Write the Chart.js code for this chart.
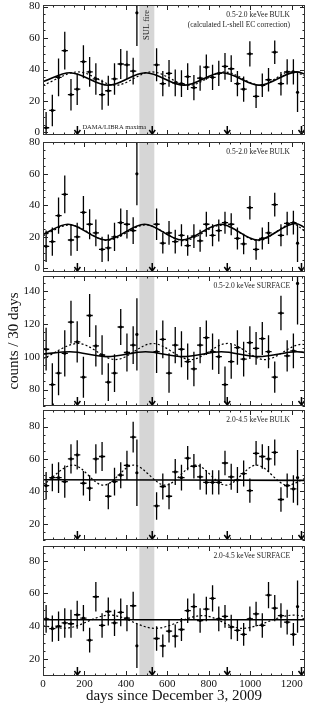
<!DOCTYPE html>
<html>
<head>
<meta charset="utf-8">
<script src="https://cdn.jsdelivr.net/npm/chart.js@4.4.1/dist/chart.umd.min.js"></script>
<style>
  body { margin: 0; background: #fff; width: 310px; height: 704px; overflow: hidden; position: relative; }
  .panel { position: absolute; left: 0; width: 310px; }
  canvas { display: block; }
</style>
</head>
<body>
<script>
// Bin centres (days since Dec 3, 2009) and half widths
const binDays = [15, 45, 75, 105, 135, 165, 195, 225, 255, 285, 315, 345, 375, 405, 435, 453,
  548, 578, 608, 638, 668, 698, 728, 758, 788, 818, 848, 878, 908, 938, 968, 998,
  1028, 1058, 1088, 1118, 1148, 1178, 1208, 1228];
const binHalf = [15, 15, 15, 15, 15, 15, 15, 15, 15, 15, 15, 15, 15, 15, 15, 5,
  15, 15, 15, 15, 15, 15, 15, 15, 15, 15, 15, 15, 15, 15, 15, 15,
  15, 15, 15, 15, 15, 15, 15, 5];

const xTickLabels = [0, 200, 400, 600, 800, 1000, 1200];
const bandDays = [465, 537];          // SUL fire
const damaDays = [166, 527, 889, 1247]; // DAMA/LIBRA maxima

// 0.5-2.0 keVee BULK (L-shell corrected)
const p1Counts = [3, 14, 35, 52, 24, 27.5, 45, 38.5, 34, 24, 26.5, 34, 43.5, 43, 39, 76,
  43, 31, 37.5, 31.5, 31, 35.5, 28.5, 34.5, 41.5, 35, 37.5, 42, 40.5, 31, 27.5, 50,
  23, 30, 33.5, 51, 31, 38.5, 38.5, 25.5];
const p1Err = [10, 10, 12, 12, 10, 10, 10.5, 9.5, 10, 9.5, 9.5, 10, 9.5, 9, 8.5, 21,
  10.5, 8, 8.5, 8.5, 8.5, 8.5, 8, 8, 8, 8, 8, 8.5, 8.5, 8, 8, 8,
  7.5, 7.5, 7.5, 7.5, 7.5, 8, 8, 12.5];
const p1SolidDays = [0, 130, 315, 495, 680, 865, 1045, 1225, 1264];
const p1Solid = [32.3, 38, 30, 38, 30, 38, 30, 38.5, 37];
const p1DotDays = [0, 170, 350, 525, 705, 875, 1050, 1200, 1264];
const p1Dotted = [30, 38.5, 30, 38.5, 30, 38.5, 30, 39, 35.8];
const p1YTicks = [0, 20, 40, 60, 80];

// 0.5-2.0 keVee BULK
const p2Counts = [14, 17, 33.5, 47, 18, 20, 35.5, 28, 22.5, 12, 13, 20, 29, 28, 24, 60,
  28, 16, 22.5, 17, 21, 14.5, 20.5, 17.5, 28, 21, 24, 29, 28, 19, 15.5, 38.5,
  12, 19, 22.5, 40.5, 21, 28.5, 29, 16];
const p2Err = [10, 9, 11.5, 12, 10, 9, 10.5, 9.5, 8.5, 8, 8.5, 9, 9, 9, 8.5, 20,
  10, 6.5, 7.5, 7.5, 7, 6.5, 7.5, 7, 8, 7, 7, 7, 7, 7, 6.5, 7.5,
  6.5, 7, 7, 7.5, 7, 7.5, 7.5, 12];
const p2SolidDays = [0, 120, 303, 490, 670, 860, 1035, 1220, 1264];
const p2Solid = [21.6, 28, 18, 28, 18, 28, 18, 28.5, 25.8];
const p2DotDays = [0, 130, 310, 495, 680, 862, 1040, 1205, 1264];
const p2Dotted = [20.8, 27.6, 17.8, 27.6, 17.6, 27.4, 17.6, 28.3, 23.5];
const p2YTicks = [0, 20, 40, 60, 80];

// 0.5-2.0 keVee SURFACE
const p3Counts = [104.5, 83, 90, 102, 121, 109, 87.5, 125, 106.5, 101, 84.5, 90, 118, 102.5, 107, 113.5,
  103, 110.5, 90, 107, 104.5, 97, 92.5, 107, 111.5, 103, 100, 83, 97, 105.5, 98.5, 108.5,
  105, 111, 103, 87.5, 126.5, 100.5, 103.5, 144.5];
const p3Err = [13, 13, 13.5, 14, 13, 12.5, 12.5, 13, 12.5, 12, 11.5, 11.5, 11, 11.5, 11.5, 22,
  13, 11.5, 12, 11, 11, 11, 10.5, 11, 10.5, 11, 10.5, 11, 10.5, 10.5, 10.5, 10,
  10, 10, 10, 9.5, 10.5, 9.5, 10.5, 25];
const p3SolidDays = [0, 130, 310, 495, 675, 860, 1040, 1225, 1264];
const p3Solid = [101.5, 103, 100, 103, 100, 103, 100, 103, 102.6];
const p3DotDays = [0, 170, 350, 530, 712, 890, 1070, 1250, 1264];
const p3Dotted = [98.8, 108, 98.2, 108, 98.2, 108, 98.2, 107.5, 107.3];
const p3YTicks = [80, 100, 120, 140];

// 2.0-4.5 keVee BULK
const p4Counts = [43.5, 48.5, 48.5, 46, 60, 62.5, 45, 42, 60, 61.5, 37, 46, 50, 56, 73.5, 51.5,
  31, 43, 37, 52, 48.5, 60.5, 55.5, 49, 45.5, 45.5, 45.5, 57.5, 49, 47, 51, 40.5,
  63.5, 61.5, 60, 64, 35, 43.5, 41.5, 48.5];
const p4Err = [8.5, 8.5, 9.5, 10, 9, 9, 7.5, 8, 9, 9, 8, 8.5, 8, 9, 9.5, 20.5,
  8.5, 8, 8, 8, 8, 7.5, 7.5, 8, 7.5, 7.5, 7.5, 7.5, 8, 8, 8, 7.5,
  7.5, 7.5, 8, 8, 7.5, 7.5, 8.5, 17];
const p4SolidDays = [0, 1264];
const p4Solid = [47.2, 46.8];
const p4DotDays = [0, 145, 292, 437, 590, 735, 883, 1030, 1180, 1264];
const p4Dotted = [44, 56.2, 43.8, 56.2, 43.8, 56.2, 43.8, 56.2, 43.8, 48];
const p4YTicks = [20, 40, 60, 80];

// 2.0-4.5 keVee SURFACE
const p5Counts = [44.5, 38.5, 40, 42, 41.5, 47, 45, 31.5, 58, 40.5, 49, 42, 48.5, 45, 52.5, 28,
  32.5, 28, 37, 34, 38, 49.5, 52, 43.5, 50.5, 57, 44.5, 46, 39.5, 37.5, 35, 44.5,
  47.5, 40.5, 59, 51, 46.5, 42.5, 35, 52];
const p5Err = [8.5, 8, 9, 9, 8.5, 8.5, 8, 7.5, 9, 7.5, 8.5, 8, 8.5, 8, 8.5, 13.5,
  7.5, 7, 7, 7, 7, 7.5, 8, 7.5, 7.5, 8, 7.5, 7, 7.5, 6.5, 7, 7.5,
  7.5, 7.5, 8, 8, 7.5, 7.5, 7, 16];
const p5SolidDays = [0, 1264];
const p5Solid = [44, 44];
const p5DotDays = [0, 105, 322, 540, 770, 960, 1210, 1264];
const p5Dotted = [40.2, 38.8, 46.8, 38.7, 46.5, 38.7, 46.8, 46];
const p5YTicks = [20, 40, 60, 80];

const FONT = '"Liberation Serif", "DejaVu Serif", serif';

const panels = [
  { top: 1, height: 138, yMin: -1.6, yMax: 81, yTicks: p1YTicks, counts: p1Counts, errs: p1Err,
    solidDays: p1SolidDays, solid: p1Solid, dotDays: p1DotDays, dotted: p1Dotted,
    labels: ['0.5-2.0 keVee BULK', '(calculated L-shell EC correction)'], first: true },
  { top: 138, height: 138, yMin: -2.3, yMax: 80.2, yTicks: p2YTicks, counts: p2Counts, errs: p2Err,
    solidDays: p2SolidDays, solid: p2Solid, dotDays: p2DotDays, dotted: p2Dotted,
    labels: ['0.5-2.0 keVee BULK'] },
  { top: 272, height: 138, yMin: 70, yMax: 149, yTicks: p3YTicks, counts: p3Counts, errs: p3Err,
    solidDays: p3SolidDays, solid: p3Solid, dotDays: p3DotDays, dotted: p3Dotted,
    labels: ['0.5-2.0 keVee SURFACE'], yTitle: 'counts / 30 days' },
  { top: 406, height: 138, yMin: 10, yMax: 90.2, yTicks: p4YTicks, counts: p4Counts, errs: p4Err,
    solidDays: p4SolidDays, solid: p4Solid, dotDays: p4DotDays, dotted: p4Dotted,
    labels: ['2.0-4.5 keVee BULK'] },
  { top: 542, height: 162, yMin: 9.6, yMax: 89, yTicks: p5YTicks, counts: p5Counts, errs: p5Err,
    solidDays: p5SolidDays, solid: p5Solid, dotDays: p5DotDays, dotted: p5Dotted,
    labels: ['2.0-4.5 keVee SURFACE'], last: true }
];

function pts(xs, ys) {
  return xs.map((x, i) => ({ x: x, y: ys[i] }));
}

// Band, error bars, arrows, inward ticks, frame and panel texts
const panelDeco = {
  id: 'panelDeco',
  beforeDatasetsDraw(chart, args, o) {
    const { ctx, chartArea: a, scales } = chart;
    const x = scales.x;
    const x0 = x.getPixelForValue(bandDays[0]);
    const x1 = x.getPixelForValue(bandDays[1]);
    ctx.save();
    ctx.fillStyle = '#d6d6d6';
    ctx.fillRect(x0, a.top, x1 - x0, a.bottom - a.top);
    ctx.restore();
  },
  afterDatasetsDraw(chart, args, o) {
    const { ctx, chartArea: a, scales } = chart;
    const x = scales.x, y = scales.y;

    ctx.save();
    ctx.beginPath();
    ctx.rect(a.left, a.top, a.right - a.left, a.bottom - a.top);
    ctx.clip();
    ctx.strokeStyle = '#000';
    ctx.lineWidth = 1.3;
    binDays.forEach((d, i) => {
      const v = o.counts[i], e = o.errs[i];
      const cx = x.getPixelForValue(d);
      const cy = y.getPixelForValue(v);
      ctx.beginPath();
      ctx.moveTo(cx, y.getPixelForValue(v - e));
      ctx.lineTo(cx, y.getPixelForValue(v + e));
      ctx.moveTo(x.getPixelForValue(d - binHalf[i]), cy);
      ctx.lineTo(x.getPixelForValue(d + binHalf[i]), cy);
      ctx.stroke();
    });
    ctx.restore();

    // DAMA/LIBRA arrows
    ctx.save();
    ctx.strokeStyle = '#000';
    ctx.lineWidth = 1.5;
    damaDays.forEach(d => {
      const ax = x.getPixelForValue(d);
      const b = a.bottom - 1;
      ctx.beginPath();
      ctx.moveTo(ax, b - 8);
      ctx.lineTo(ax, b);
      ctx.moveTo(ax - 3, b - 4);
      ctx.lineTo(ax, b);
      ctx.lineTo(ax + 3, b - 4);
      ctx.stroke();
    });
    ctx.restore();

    // inward ticks on all four sides
    ctx.save();
    ctx.strokeStyle = '#222';
    ctx.lineWidth = 1;
    ctx.beginPath();
    for (let v = 0; v <= x.max; v += 50) {
      const px = Math.round(x.getPixelForValue(v)) + 0.5;
      const len = v % 200 === 0 ? 5 : 2.5;
      ctx.moveTo(px, a.bottom); ctx.lineTo(px, a.bottom - len);
      ctx.moveTo(px, a.top); ctx.lineTo(px, a.top + len);
    }
    for (let v = Math.ceil(y.min / 5) * 5; v <= y.max; v += 5) {
      const py = Math.round(y.getPixelForValue(v)) + 0.5;
      const len = o.yTicks.includes(v) ? 5 : 2.5;
      ctx.moveTo(a.left, py); ctx.lineTo(a.left + len, py);
      ctx.moveTo(a.right, py); ctx.lineTo(a.right - len, py);
    }
    ctx.stroke();
    ctx.strokeStyle = '#333';
    ctx.strokeRect(a.left + 0.5, a.top + 0.5, a.right - a.left - 1, a.bottom - a.top - 1);
    ctx.restore();

    // panel texts
    ctx.save();
    ctx.fillStyle = '#222';
    ctx.font = '7.5px ' + FONT;
    ctx.textAlign = 'right';
    ctx.textBaseline = 'middle';
    o.labels.forEach((t, i) => {
      ctx.fillText(t, a.right - 15, a.top + 10.5 + i * 9.5);
    });
    if (o.first) {
      ctx.textAlign = 'left';
      ctx.font = '6.5px ' + FONT;
      ctx.fillText('DAMA/LIBRA maxima', x.getPixelForValue(damaDays[0]) + 5, a.bottom - 7.5);
      const bx = (x.getPixelForValue(bandDays[0]) + x.getPixelForValue(bandDays[1])) / 2;
      ctx.translate(bx, a.top + 20);
      ctx.rotate(-Math.PI / 2);
      ctx.textAlign = 'center';
      ctx.font = '8.5px ' + FONT;
      ctx.fillText('SUL fire', 0, 0);
    }
    ctx.restore();
  }
};

panels.forEach(p => {
  const wrap = document.createElement('div');
  wrap.className = 'panel';
  wrap.style.top = p.top + 'px';
  wrap.style.height = p.height + 'px';
  const canvas = document.createElement('canvas');
  canvas.width = 310;
  canvas.height = p.height;
  wrap.appendChild(canvas);
  document.body.appendChild(wrap);

  new Chart(canvas, {
    type: 'scatter',
    data: {
      datasets: [
        {
          data: pts(binDays, p.counts),
          pointRadius: 1.6,
          pointHoverRadius: 1.6,
          backgroundColor: '#000',
          borderColor: '#000',
          borderWidth: 0
        },
        {
          data: pts(p.solidDays, p.solid),
          showLine: true,
          pointRadius: 0,
          borderColor: '#000',
          borderWidth: 1.6,
          cubicInterpolationMode: 'monotone'
        },
        {
          data: pts(p.dotDays, p.dotted),
          showLine: true,
          pointRadius: 0,
          borderColor: '#000',
          borderWidth: 1.2,
          borderDash: [2, 2.2],
          cubicInterpolationMode: 'monotone'
        }
      ]
    },
    options: {
      responsive: false,
      animation: false,
      events: [],
      layout: { padding: { top: 4, bottom: p.last ? 0 : 4, left: 0, right: 5 } },
      plugins: {
        legend: { display: false },
        tooltip: { enabled: false },
        panelDeco: {
          counts: p.counts,
          errs: p.errs,
          yTicks: p.yTicks,
          labels: p.labels,
          first: !!p.first
        }
      },
      scales: {
        x: {
          type: 'linear',
          display: !!p.last,
          min: 0,
          max: 1264,
          grid: { display: false, drawTicks: false },
          border: { display: false },
          afterBuildTicks: s => { s.ticks = xTickLabels.map(v => ({ value: v })); },
          afterFit: s => {
            if (p.last) s.height = 28;
            s.paddingLeft = 0;
            s.paddingRight = 0;
          },
          ticks: {
            autoSkip: false,
            maxRotation: 0,
            padding: 2,
            color: '#111',
            font: { family: FONT, size: 11 },
            callback: v => String(v)
          },
          title: {
            display: true,
            text: 'days since December 3, 2009',
            color: '#111',
            font: { family: FONT, size: 15, lineHeight: 1.1 },
            padding: { top: 0, bottom: 0 }
          }
        },
        y: {
          type: 'linear',
          min: p.yMin,
          max: p.yMax,
          grid: { display: false, drawTicks: false },
          border: { display: false },
          afterBuildTicks: s => { s.ticks = p.yTicks.map(v => ({ value: v })); },
          afterFit: s => {
            s.width = 43;
            s.paddingTop = 0;
            s.paddingBottom = 0;
          },
          ticks: {
            padding: 3,
            color: '#111',
            font: { family: FONT, size: 11 }
          },
          title: {
            display: !!p.yTitle,
            text: p.yTitle || '',
            color: '#111',
            font: { family: FONT, size: 15 },
            padding: { top: 5, bottom: 0 }
          }
        }
      }
    },
    plugins: [panelDeco]
  });
});
</script>
</body>
</html>
